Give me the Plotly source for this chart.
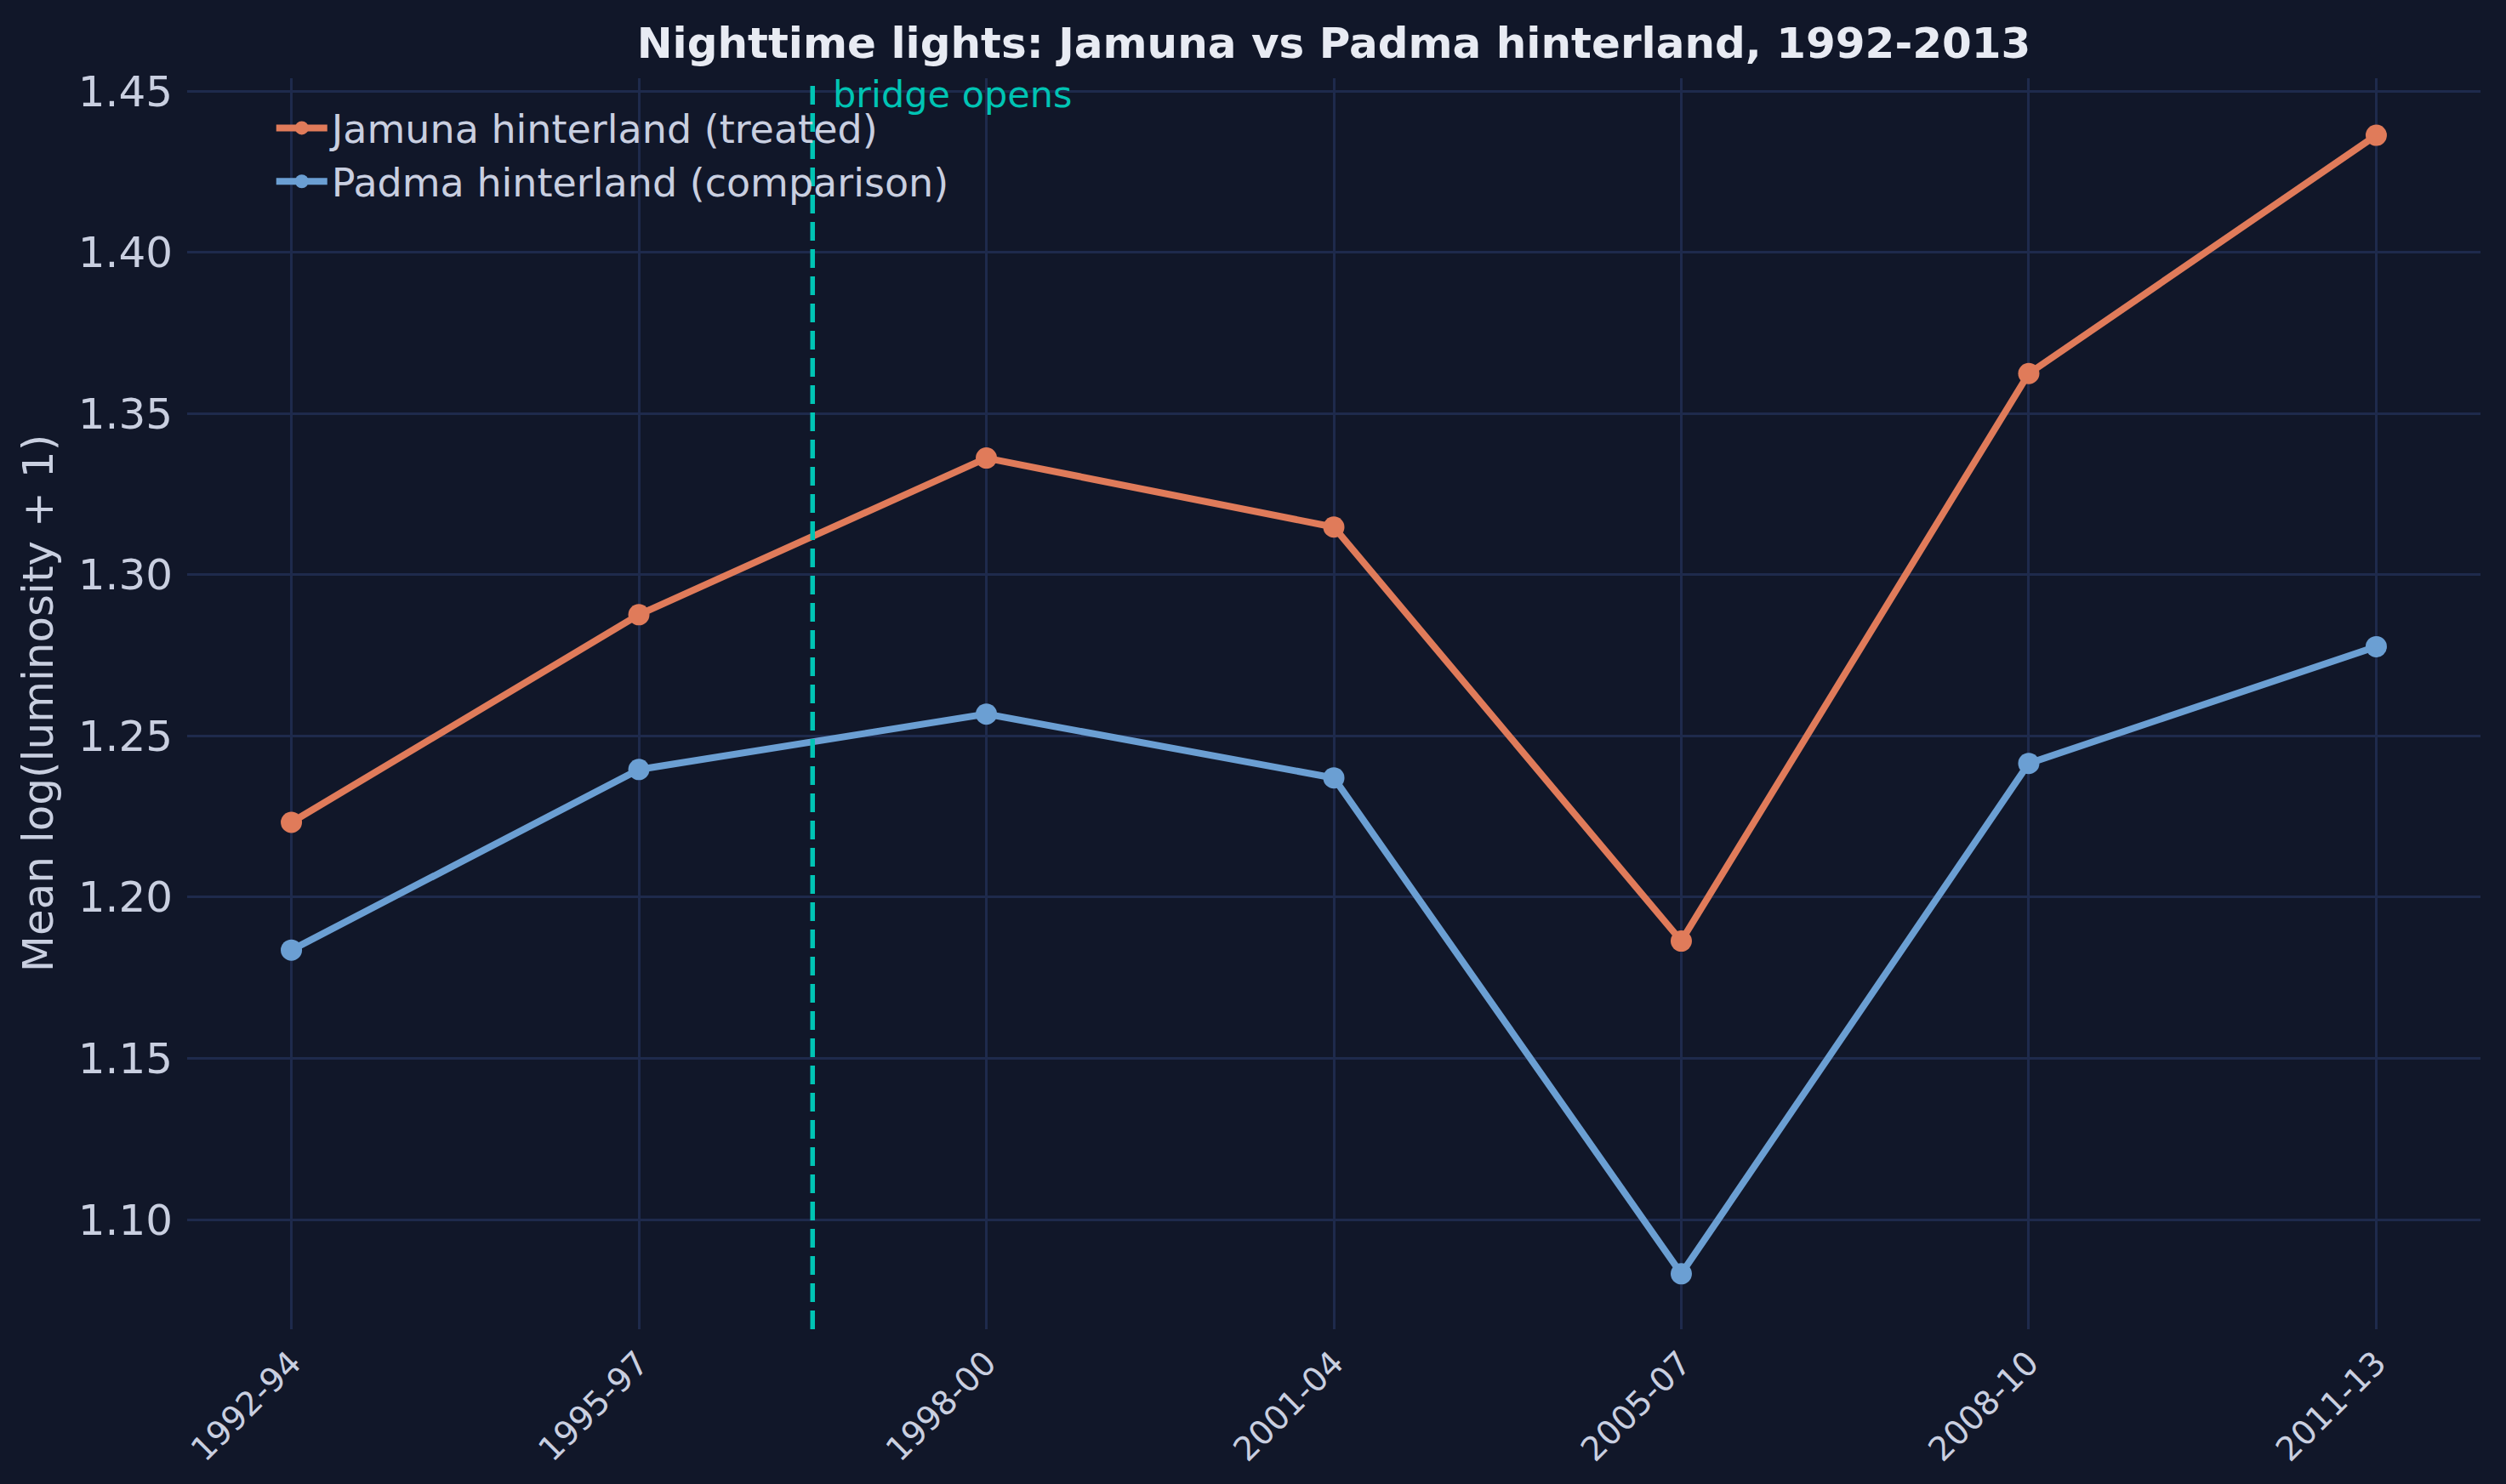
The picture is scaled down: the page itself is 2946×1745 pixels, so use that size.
import plotly.graph_objects as go

periods = ['1992-94', '1995-97', '1998-00', '2001-04', '2005-07', '2008-10', '2011-13']
jamuna = [1.2232, 1.2876, 1.3362, 1.3148, 1.1864, 1.3624, 1.4363]
padma = [1.1836, 1.2396, 1.2568, 1.2370, 1.0832, 1.2415, 1.2777]
bridge_x = 1.5

BG = '#111729'
GRID = '#1e2a4c'
TXT = '#c9cfe0'
ORANGE = '#e07b5a'
BLUE = '#6b9fd3'
TEAL = '#00c4b4'
FONT = 'DejaVu Sans'

xs = list(range(len(periods)))

fig = go.Figure()

fig.add_trace(
    go.Scatter(
        x=xs,
        y=jamuna,
        name='Jamuna hinterland (treated)',
        mode='lines+markers',
        line=dict(color=ORANGE, width=8),
        marker=dict(color=ORANGE, size=25),
    )
)

fig.add_trace(
    go.Scatter(
        x=xs,
        y=padma,
        name='Padma hinterland (comparison)',
        mode='lines+markers',
        line=dict(color=BLUE, width=8),
        marker=dict(color=BLUE, size=25),
    )
)

fig.add_shape(
    type='line', xref='x', yref='paper',
    x0=bridge_x, x1=bridge_x, y0=0, y1=1,
    line=dict(color=TEAL, width=5.5, dash='22px,10px'),
)

fig.add_annotation(
    x=bridge_x, y=1, xref='x', yref='paper',
    text='bridge opens', showarrow=False,
    xanchor='left', yanchor='top', xshift=22, yshift=8,
    font=dict(family=FONT, size=43, color=TEAL),
)

# y axis title placed like matplotlib's ylabel
fig.add_annotation(
    x=-0.065, y=0.5, xref='paper', yref='paper',
    text='Mean log(luminosity + 1)', showarrow=False,
    textangle=-90, xanchor='center', yanchor='middle',
    font=dict(family=FONT, size=50, color=TXT),
)

fig.update_layout(
    width=2946, height=1745,
    margin=dict(l=220, r=30, t=92, b=182, autoexpand=False),
    paper_bgcolor=BG, plot_bgcolor=BG,
    font=dict(family=FONT, color=TXT),
    title=dict(
        text='<b>Nighttime lights: Jamuna vs Padma hinterland, 1992-2013</b>',
        x=0.5, xref='paper', xanchor='center',
        y=1 - 50 / 1745, yref='container', yanchor='middle',
        font=dict(family=FONT, size=50, color='#e8ebf3'),
    ),
    legend=dict(
        x=0.037, y=0.985, xanchor='left', yanchor='top',
        bgcolor='rgba(0,0,0,0)', borderwidth=0,
        font=dict(family=FONT, size=46, color=TXT),
        itemwidth=60,
    ),
    showlegend=True,
)

fig.update_xaxes(
    range=[-0.3, 6.3],
    tickmode='array', tickvals=xs, ticktext=periods,
    tickangle=-45,
    tickfont=dict(family=FONT, size=39, color=TXT),
    showgrid=True, gridcolor=GRID, gridwidth=2.5,
    zeroline=False, showline=False, ticks='',
    ticklabelstandoff=8,
)

fig.update_yaxes(
    range=[1.066, 1.454],
    tickvals=[1.10, 1.15, 1.20, 1.25, 1.30, 1.35, 1.40, 1.45],
    tickformat='.2f',
    tickfont=dict(family=FONT, size=50, color=TXT),
    showgrid=True, gridcolor=GRID, gridwidth=2.5,
    zeroline=False, showline=False, ticks='',
    ticklabelstandoff=16,
)

fig.write_html(
    'out.html',
    config={'displayModeBar': False},
    post_script="document.body.style.margin='0';document.body.style.background='#111729';",
)
